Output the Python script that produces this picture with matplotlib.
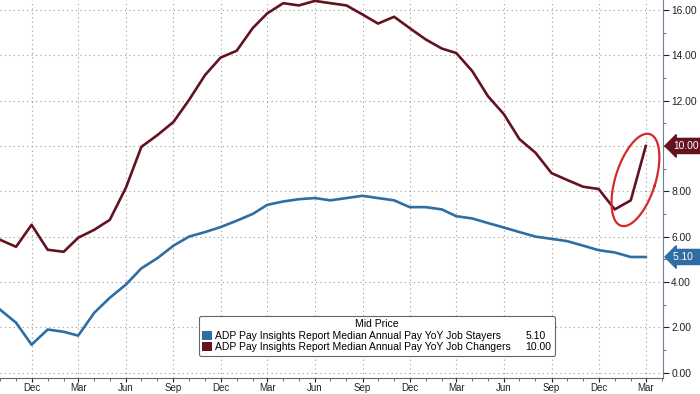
import numpy as np
import pandas as pd
import matplotlib
matplotlib.use('Agg')
import matplotlib.pyplot as plt
import matplotlib.dates as mdates
import matplotlib.transforms as mtransforms
from matplotlib.patches import Rectangle

plt.rcParams['font.family'] = ['Liberation Sans', 'DejaVu Sans']

# monthly data, Oct 2020 .. Mar 2024
dates = pd.date_range('2020-10-01', '2024-03-01', freq='MS')

changers = [5.86, 5.55, 6.52,
            5.42, 5.33, 5.95, 6.3, 6.74, 8.15, 9.96, 10.48, 11.06, 12.03, 13.13, 13.9,
            14.2, 15.2, 15.85, 16.3, 16.2, 16.4, 16.3, 16.2, 15.8, 15.4, 15.7, 15.2,
            14.7, 14.3, 14.1, 13.3, 12.2, 11.4, 10.3, 9.7, 8.8, 8.5, 8.2, 8.1,
            7.2, 7.6, 10.0]

stayers = [2.78, 2.2, 1.23,
           1.9, 1.8, 1.63, 2.64, 3.3, 3.88, 4.6, 5.05, 5.6, 6.0, 6.2, 6.42,
           6.7, 7.0, 7.4, 7.55, 7.65, 7.7, 7.6, 7.7, 7.8, 7.7, 7.6, 7.3,
           7.3, 7.2, 6.9, 6.8, 6.6, 6.4, 6.2, 6.0, 5.9, 5.8, 5.6, 5.4,
           5.3, 5.1, 5.1]

labels = ['ADP Pay Insights Report Median Annual Pay YoY Job Stayers',
          'ADP Pay Insights Report Median Annual Pay YoY Job Changers']
last_vals = ['5.10', '10.00']

blue = '#2f6ea3'
maroon = '#641220'

fig = plt.figure(figsize=(7, 3.94), dpi=100)
ax = fig.add_axes([0.0, 0.04, 0.947, 0.96])

ax.plot(dates, stayers, color=blue, lw=1.9, zorder=3)
ax.plot(dates, changers, color=maroon, lw=1.9, zorder=3)

ax.set_xlim(pd.Timestamp('2020-10-01'), pd.Timestamp('2024-04-03'))
ax.set_ylim(-0.25, 16.44)

# axes styling
ax.yaxis.tick_right()
ax.set_yticks(np.arange(0, 17, 2))
ax.set_yticks(np.arange(1, 17, 2), minor=True)
# the 10.00 label sits under the value tag, so leave it blank
ax.yaxis.set_major_formatter(matplotlib.ticker.FuncFormatter(
    lambda v, p: '' if abs(v - 10) < 1e-9 else '%.2f' % v))
ax.xaxis.set_major_locator(mdates.MonthLocator(bymonth=[3, 6, 9, 12]))
ax.xaxis.set_minor_locator(mdates.MonthLocator())
ax.xaxis.set_major_formatter(mdates.DateFormatter('%b'))
ax.tick_params(axis='y', which='major', length=4, pad=2, labelsize=7.4, colors='#222222')
ax.tick_params(axis='y', which='minor', length=2.5, color='#555555')
ax.tick_params(axis='x', which='major', length=3, pad=0.3, labelsize=7.0, colors='#222222')
ax.tick_params(axis='x', which='minor', length=2.5, color='#555555')
for s in ['top', 'left']:
    ax.spines[s].set_visible(False)
ax.spines['right'].set_color('#6d7f99')
ax.spines['bottom'].set_color('#666666')
ax.grid(True, which='major', color='#9a9a9a', ls=(0, (1, 3)), lw=0.8)
ax.set_axisbelow(True)

# value tags on right axis
trans = mtransforms.blended_transform_factory(ax.transAxes, ax.transData)
ax.text(1.0155, 10.0, '10.00', transform=trans, color='white', fontsize=7.4,
        va='center', ha='left', zorder=6, clip_on=False,
        bbox=dict(boxstyle='larrow,pad=0.25', fc=maroon, ec=maroon))
ax.text(1.0155, 5.1, '5.10  ', transform=trans, color='white', fontsize=7.4,
        va='center', ha='left', zorder=6, clip_on=False,
        bbox=dict(boxstyle='larrow,pad=0.25', fc=blue, ec=blue))

# red ellipse highlight around the last three points
fig.canvas.draw()
cx, cy = ax.transData.transform((mdates.date2num(pd.Timestamp('2024-02-10')), 8.5))
t = np.linspace(0, 2 * np.pi, 200)
a, b, ang = 20, 48, np.deg2rad(-17.5)
ex = a * np.cos(t)
ey = b * np.sin(t)
px = cx + ex * np.cos(ang) - ey * np.sin(ang)
py = cy + ex * np.sin(ang) + ey * np.cos(ang)
pts = ax.transData.inverted().transform(np.column_stack([px, py]))
ax.plot(pts[:, 0], pts[:, 1], color='#d42a2a', lw=1.6, zorder=4)

# legend
h1 = Rectangle((0, 0), 1, 1, fc=blue, ec='none')
h2 = Rectangle((0, 0), 1, 1, fc=maroon, ec='none')
blank = Rectangle((0, 0), 1, 1, fc='none', ec='none')
leg = ax.legend([h1, h2, blank, blank], labels + last_vals, ncol=2,
                title='Mid Price', title_fontsize=7.5, fontsize=7.5,
                loc='lower right', bbox_to_anchor=(0.845, 0.045),
                handlelength=0.9, handleheight=0.9, handletextpad=0.3,
                columnspacing=0.2, labelspacing=0.15, borderpad=0.35,
                frameon=True, fancybox=True, framealpha=1,
                edgecolor='#666666')
leg.get_frame().set_linewidth(0.8)
leg.set_zorder(5)

fig.savefig('out.png', dpi=100)
